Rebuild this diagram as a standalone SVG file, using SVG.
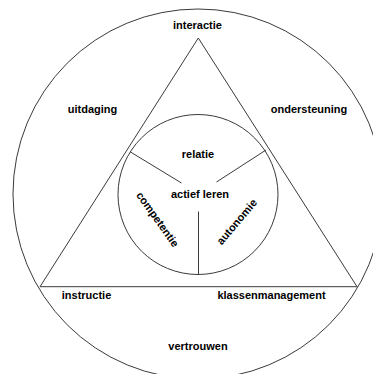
<svg xmlns="http://www.w3.org/2000/svg" width="373" height="374" viewBox="0 0 373 374">
<style>
.ln{fill:none;stroke:#3a3a3a;stroke-width:1}
.t{font-family:"Liberation Sans",Arial,sans-serif;font-size:11px;font-weight:bold;fill:#000;text-anchor:middle}
</style>
<rect width="373" height="374" fill="#fff"/>
<g id="connectors">
<circle class="ln" cx="198" cy="194" r="185"/>
<polygon class="ln" points="198.3,38 40,286.7 357,286.7"/>
<circle class="ln" cx="198" cy="194.5" r="80"/>
<line class="ln" x1="130" y1="151.7" x2="181.5" y2="183"/>
<line class="ln" x1="266" y1="150" x2="216.5" y2="182"/>
<line class="ln" x1="198.5" y1="211.5" x2="198.5" y2="274.5"/>
</g>
<g id="interactie"><text class="t" x="197.5" y="29">interactie</text></g>
<g id="uitdaging"><text class="t" x="92.5" y="112.5">uitdaging</text></g>
<g id="ondersteuning"><text class="t" x="309" y="113">ondersteuning</text></g>
<g id="relatie"><text class="t" x="198" y="158">relatie</text></g>
<g id="actief-leren"><text class="t" x="200" y="198">actief leren</text></g>
<g id="competentie"><text class="t" transform="translate(154.6,221.5) rotate(54.5)">competentie</text></g>
<g id="autonomie"><text class="t" transform="translate(239.7,224.2) rotate(-50)">autonomie</text></g>
<g id="instructie"><text class="t" x="86.5" y="299">instructie</text></g>
<g id="klassenmanagement"><text class="t" x="271.5" y="299">klassenmanagement</text></g>
<g id="vertrouwen"><text class="t" x="198" y="350">vertrouwen</text></g>
</svg>
